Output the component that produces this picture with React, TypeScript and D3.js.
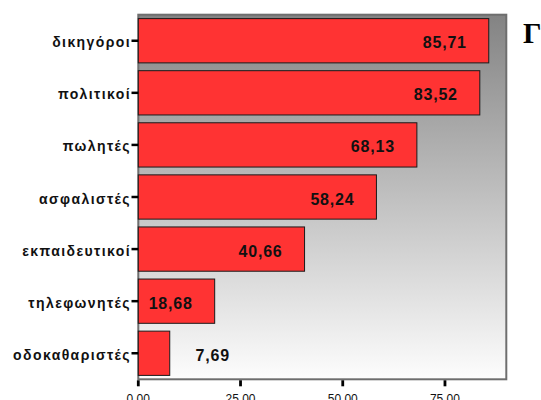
import React from "react";
import * as d3 from "d3";

const categories = [
  "δικηγόροι",
  "πολιτικοί",
  "πωλητές",
  "ασφαλιστές",
  "εκπαιδευτικοί",
  "τηλεφωνητές",
  "οδοκαθαριστές",
];
const percentages = [85.71, 83.52, 68.13, 58.24, 40.66, 18.68, 7.69];
const xTicks = [0, 25, 50, 75];
const titleText = "Γ";

const W = 541;
const H = 400;
const plot = { left: 138.3, top: 14.7, right: 506.3, bottom: 379.3 };

const sans = "'Liberation Sans', Arial, sans-serif";

export default function App() {
  const x = d3.scaleLinear().domain([0, 90]).range([plot.left, plot.right]);
  const y = d3
    .scaleBand<string>()
    .domain(categories)
    .range([plot.top, plot.bottom])
    .paddingInner(0.15)
    .paddingOuter(0.075);

  const fmtValue = (v: number) => d3.format(".2f")(v).replace(".", ",");
  const fmtTick = d3.format(".2f");

  return (
    <svg
      width={W}
      height={H}
      style={{ position: "absolute", left: 0, top: 0, background: "#fff" }}
    >
      <defs>
        <linearGradient id="plotBg" x1="0" y1="0" x2="0" y2="1">
          <stop offset="0%" stopColor="#838383" />
          <stop offset="100%" stopColor="#fdfdfd" />
        </linearGradient>
      </defs>

      {/* plot frame */}
      <rect
        x={plot.left}
        y={plot.top}
        width={plot.right - plot.left}
        height={plot.bottom - plot.top}
        fill="url(#plotBg)"
        stroke="#6e6e6e"
        strokeWidth={2}
      />

      {/* bars */}
      {categories.map((c, i) => (
        <rect
          key={c}
          x={x(0)}
          y={y(c)!}
          width={x(percentages[i]) - x(0)}
          height={y.bandwidth()}
          fill="#ff3333"
          stroke="#1a1a1a"
          strokeWidth={1}
        />
      ))}

      {/* value labels */}
      {categories.map((c, i) => {
        const v = percentages[i];
        const inside = v > 10;
        const cx = inside ? x(v) - 44 : x(v) + 43;
        return (
          <text
            key={c}
            x={cx}
            y={y(c)! + y.bandwidth() / 2 + 7.5}
            textAnchor="middle"
            fontFamily={sans}
            fontWeight="bold"
            fontSize={16}
            letterSpacing={0.8}
            fill="#111"
          >
            {fmtValue(v)}
          </text>
        );
      })}

      {/* category axis ticks and labels */}
      {categories.map((c) => {
        const cy = y(c)! + y.bandwidth() / 2;
        return (
          <g key={c}>
            <line
              x1={131.5}
              x2={plot.left}
              y1={cy}
              y2={cy}
              stroke="#000"
              strokeWidth={2.5}
            />
            <text
              x={131}
              y={cy + 6.5}
              textAnchor="end"
              fontFamily={sans}
              fontWeight="bold"
              fontSize={14}
              letterSpacing={1.4}
              fill="#111"
            >
              {c}
            </text>
          </g>
        );
      })}

      {/* value axis ticks and labels */}
      {xTicks.map((t) => (
        <g key={t}>
          <line
            x1={x(t)}
            x2={x(t)}
            y1={plot.bottom + 1}
            y2={plot.bottom + 7}
            stroke="#000"
            strokeWidth={2.8}
          />
          <text
            x={x(t)}
            y={403}
            textAnchor="middle"
            fontFamily={sans}
            fontSize={12}
            fill="#111"
          >
            {fmtTick(t)}
          </text>
        </g>
      ))}

      <text
        x={523}
        y={43}
        fontFamily="'Liberation Serif', 'Times New Roman', serif"
        fontWeight="bold"
        fontSize={29}
        fill="#000"
      >
        {titleText}
      </text>
    </svg>
  );
}
